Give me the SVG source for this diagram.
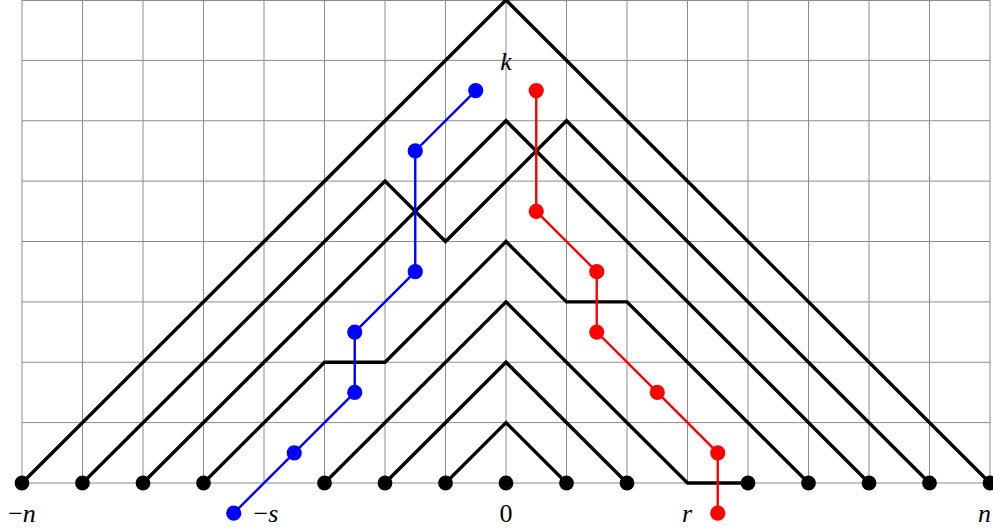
<svg xmlns="http://www.w3.org/2000/svg" width="993" height="531" viewBox="0 0 993 531">
<style>
.grid line{stroke:#8c8c8c;stroke-width:1}
.path{fill:none;stroke:#000;stroke-width:3.4;stroke-linejoin:miter}
.bl{fill:none;stroke:#0000ff;stroke-width:2.4}
.rd{fill:none;stroke:#ff0000;stroke-width:2.4}
.bdot{fill:#000}
.blue{fill:#0000ff}
.red{fill:#ff0000}
text{font-family:"Liberation Serif","DejaVu Serif",serif;font-size:26px;text-anchor:middle}
.it{font-style:italic}
</style>
<rect width="993" height="531" fill="#fff"/>
<g id="grid" class="grid">
<line x1="22" y1="0" x2="22" y2="483"/><line x1="82.5" y1="0" x2="82.5" y2="483"/><line x1="143" y1="0" x2="143" y2="483"/><line x1="203.5" y1="0" x2="203.5" y2="483"/><line x1="264" y1="0" x2="264" y2="483"/><line x1="324.5" y1="0" x2="324.5" y2="483"/><line x1="385" y1="0" x2="385" y2="483"/><line x1="445.5" y1="0" x2="445.5" y2="483"/><line x1="506" y1="0" x2="506" y2="483"/><line x1="566.5" y1="0" x2="566.5" y2="483"/><line x1="627" y1="0" x2="627" y2="483"/><line x1="687.5" y1="0" x2="687.5" y2="483"/><line x1="748" y1="0" x2="748" y2="483"/><line x1="808.5" y1="0" x2="808.5" y2="483"/><line x1="869" y1="0" x2="869" y2="483"/><line x1="929.5" y1="0" x2="929.5" y2="483"/><line x1="990" y1="0" x2="990" y2="483"/>
<line x1="22" y1="0.5" x2="990" y2="0.5"/><line x1="22" y1="60.4" x2="990" y2="60.4"/><line x1="22" y1="120.75" x2="990" y2="120.75"/><line x1="22" y1="181.1" x2="990" y2="181.1"/><line x1="22" y1="241.5" x2="990" y2="241.5"/><line x1="22" y1="301.9" x2="990" y2="301.9"/><line x1="22" y1="362.25" x2="990" y2="362.25"/><line x1="22" y1="422.6" x2="990" y2="422.6"/><line x1="22" y1="483" x2="990" y2="483"/>
</g>
<g id="connectors">
<path class="path" d="M22 483 L506 0 L990 483"/>
<path class="path" d="M82.5 483 L385 181.13 L445.5 241.5 L566.5 120.75 L929.5 483"/>
<path class="path" d="M143 483 L506 120.75 L869 483"/>
<path class="path" d="M203.5 483 L324.5 362.25 L385 362.25 L506 241.5 L566.5 301.88 L627 301.88 L808.5 483"/>
<path class="path" d="M324.5 483 L506 301.88 L687.5 483 L748 483"/>
<path class="path" d="M385 483 L506 362.25 L627 483"/>
<path class="path" d="M445.5 483 L506 422.63 L566.5 483"/>
<path class="bl" d="M233.75 513.19 L294.25 452.81 L354.75 392.44 L354.75 332.06 L415.25 271.69 L415.25 150.94 L475.75 90.56"/>
<path class="rd" d="M536.25 90.56 L536.25 211.31 L596.75 271.69 L596.75 332.06 L657.25 392.44 L717.75 452.81 L717.75 513.19"/>
</g>
<g id="bottom-nodes" class="bdot">
<circle cx="22" cy="483" r="7.4"/><circle cx="82.5" cy="483" r="7.4"/><circle cx="143" cy="483" r="7.4"/><circle cx="203.5" cy="483" r="7.4"/><circle cx="324.5" cy="483" r="7.4"/><circle cx="385" cy="483" r="7.4"/><circle cx="445.5" cy="483" r="7.4"/><circle cx="506" cy="483" r="7.4"/><circle cx="566.5" cy="483" r="7.4"/><circle cx="627" cy="483" r="7.4"/><circle cx="748" cy="483" r="7.4"/><circle cx="808.5" cy="483" r="7.4"/><circle cx="869" cy="483" r="7.4"/><circle cx="929.5" cy="483" r="7.4"/><circle cx="990" cy="483" r="7.4"/>
</g>
<g id="blue-nodes" class="blue">
<circle cx="233.75" cy="513.19" r="7.6"/><circle cx="294.25" cy="452.81" r="7.6"/><circle cx="354.75" cy="392.44" r="7.6"/><circle cx="354.75" cy="332.06" r="7.6"/><circle cx="415.25" cy="271.69" r="7.6"/><circle cx="415.25" cy="150.94" r="7.6"/><circle cx="475.75" cy="90.56" r="7.6"/>
</g>
<g id="red-nodes" class="red">
<circle cx="536.25" cy="90.56" r="7.6"/><circle cx="536.25" cy="211.31" r="7.6"/><circle cx="596.75" cy="271.69" r="7.6"/><circle cx="596.75" cy="332.06" r="7.6"/><circle cx="657.25" cy="392.44" r="7.6"/><circle cx="717.75" cy="452.81" r="7.6"/><circle cx="717.75" cy="513.19" r="7.6"/>
</g>
<g id="labels">
<text x="22" y="522">−<tspan class="it">n</tspan></text>
<text x="266" y="522">−<tspan class="it">s</tspan></text>
<text x="506" y="522">0</text>
<text x="687" y="522" class="it">r</text>
<text x="991" y="522" class="it" style="text-anchor:end">n</text>
<text x="506" y="70" class="it">k</text>
</g>
</svg>
